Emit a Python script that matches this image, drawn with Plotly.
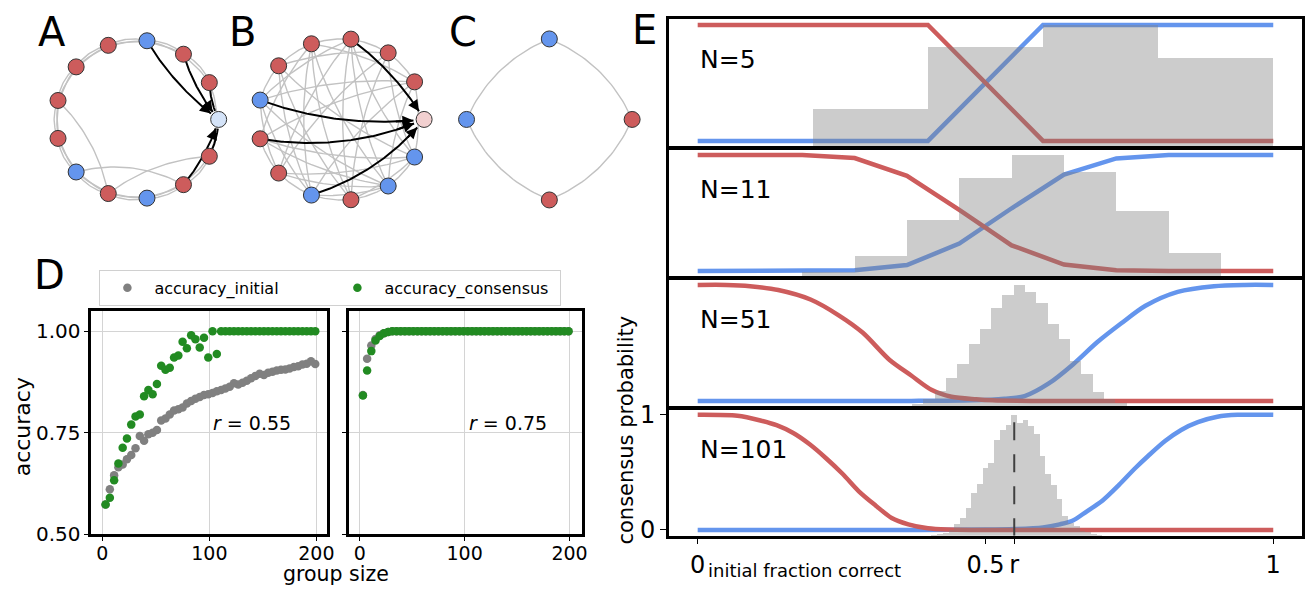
import numpy as np
import plotly.graph_objects as go

W, H = 1315, 597
FONT = "DejaVu Sans"
RED = "#cd5c5c"
BLUE = "#6495ed"
GREEN = "#228b22"
GRAY = "#808080"
EDGE = "#c2c2c2"

# ---------------- Panel A / B / C : networks ----------------
A_opinion = ["focal", "red", "red", "blue", "red", "red", "red", "red", "blue", "red", "blue", "red", "red"]
A_edges = [(1, 2), (2, 3), (3, 4), (4, 5), (5, 6), (6, 7), (7, 8), (8, 9), (9, 10), (10, 11), (11, 12),
           (1, 3), (2, 4), (3, 5), (4, 6), (5, 7), (6, 8), (7, 9), (8, 10), (9, 11), (10, 12), (12, 1)]
A_long_edges = [(6, 9), (8, 11), (9, 12)]
A_sources = [1, 2, 3, 11, 12]

B_opinion = ["focal", "red", "red", "red", "red", "red", "blue", "red", "red", "blue", "red", "blue", "blue"]
B_edges = [(1, 2), (2, 3), (3, 4), (4, 5), (5, 6), (7, 8), (8, 9), (9, 10), (10, 11), (11, 12), (12, 1),
           (1, 4), (1, 6), (1, 7), (1, 9), (2, 5), (2, 8), (2, 10), (2, 12), (3, 8), (3, 10), (3, 11),
           (3, 12), (4, 9), (4, 11), (4, 7), (5, 9), (5, 10), (5, 12), (6, 9), (6, 11), (7, 11), (7, 12),
           (8, 11), (8, 12), (9, 11), (10, 12), (3, 6), (4, 10), (6, 8), (1, 11)]
B_sources = [3, 6, 7, 9]

C_opinion = ["red", "blue", "blue", "red"]
C_edges = [(0, 1), (1, 2), (2, 3), (3, 0)]

# ---------------- Panel D : accuracy vs group size ----------------
group_size = list(range(3, 200, 4))
acc_initial_r055 = [0.573, 0.611, 0.645, 0.665, 0.672, 0.685, 0.695, 0.712, 0.742, 0.730,
                    0.746, 0.750, 0.757, 0.780, 0.785, 0.795, 0.805, 0.808, 0.812, 0.822,
                    0.828, 0.834, 0.838, 0.843, 0.845, 0.848, 0.852, 0.855, 0.859, 0.863,
                    0.872, 0.869, 0.873, 0.878, 0.884, 0.890, 0.895, 0.892, 0.898, 0.900,
                    0.903, 0.905, 0.906, 0.908, 0.912, 0.914, 0.918, 0.920, 0.926, 0.919]
acc_consensus_r055 = [0.573, 0.590, 0.633, 0.674, 0.713, 0.736, 0.770, 0.790, 0.795, 0.840,
                      0.855, 0.845, 0.870, 0.915, 0.905, 0.910, 0.935, 0.940, 0.974, 0.958,
                      0.990, 0.980, 0.960, 0.984, 0.935, 1.0, 0.944, 1.0, 1.0, 1.0,
                      1.0, 1.0, 1.0, 1.0, 1.0, 1.0, 1.0, 1.0, 1.0, 1.0,
                      1.0, 1.0, 1.0, 1.0, 1.0, 1.0, 1.0, 1.0, 1.0, 1.0]
acc_initial_r075 = [0.843, 0.932, 0.965, 0.981, 0.990, 0.995, 0.998, 1.0, 1.0, 1.0,
                    1.0, 1.0, 1.0, 1.0, 1.0, 1.0, 1.0, 1.0, 1.0, 1.0,
                    1.0, 1.0, 1.0, 1.0, 1.0, 1.0, 1.0, 1.0, 1.0, 1.0,
                    1.0, 1.0, 1.0, 1.0, 1.0, 1.0, 1.0, 1.0, 1.0, 1.0,
                    1.0, 1.0, 1.0, 1.0, 1.0, 1.0, 1.0, 1.0, 1.0, 1.0]
acc_consensus_r075 = [0.842, 0.903, 0.951, 0.977, 0.988, 0.995, 0.998, 1.0, 1.0, 1.0,
                      1.0, 1.0, 1.0, 1.0, 1.0, 1.0, 1.0, 1.0, 1.0, 1.0,
                      1.0, 1.0, 1.0, 1.0, 1.0, 1.0, 1.0, 1.0, 1.0, 1.0,
                      1.0, 1.0, 1.0, 1.0, 1.0, 1.0, 1.0, 1.0, 1.0, 1.0,
                      1.0, 1.0, 1.0, 1.0, 1.0, 1.0, 1.0, 1.0, 1.0, 1.0]
r_values = ["0.55", "0.75"]

# ---------------- Panel E : consensus probability ----------------
R_TRUE = 0.55
N_labels = ["N=5", "N=11", "N=51", "N=101"]

n5_x = [0.0, 0.2, 0.4, 0.6, 0.8, 1.0]
n5_correct = [0, 0, 0, 1, 1, 1]
n5_wrong = [1, 1, 1, 0, 0, 0]
n5_hist_start, n5_bins = 1, 5
n5_hist = [0.31, 0.818, 1.0, 0.727]

n11_x = [0.0, 0.0909, 0.1818, 0.2727, 0.3636, 0.4545, 0.5455, 0.6364, 0.7273, 0.8182, 0.9091, 1.0]
n11_correct = [0, 0, 0, 0.005, 0.05, 0.235, 0.54, 0.83, 0.97, 1, 1, 1]
n11_wrong = [1, 1, 1, 0.973, 0.82, 0.527, 0.22, 0.055, 0.005, 0, 0, 0]
n11_hist_start, n11_bins = 2, 11
n11_hist = [0.036, 0.171, 0.467, 0.81, 1.0, 0.863, 0.538, 0.195]

n51_correct_x = [0.0, 0.2, 0.371, 0.477, 0.533, 0.568, 0.61, 0.652, 0.694, 0.736, 0.778, 0.834, 0.897, 0.95, 1.0]
n51_correct = [0.0, 0.0, 0.0, 0.005, 0.019, 0.041, 0.15, 0.314, 0.505, 0.669, 0.82, 0.94, 0.989, 1.0, 1.0]
n51_wrong_x = [0.0, 0.05, 0.091, 0.14, 0.196, 0.245, 0.287, 0.333, 0.371, 0.406, 0.441, 0.484, 0.512, 0.58, 0.8, 1.0]
n51_wrong = [1.0, 1.0, 0.989, 0.956, 0.874, 0.738, 0.587, 0.355, 0.219, 0.096, 0.036, 0.014, 0.005, 0.0, 0.0, 0.0]
n51_hist_start, n51_bins = 19, 51
n51_hist = [0.019, 0.059, 0.125, 0.237, 0.352, 0.512, 0.637, 0.811, 0.917, 1.0,
            0.947, 0.851, 0.68, 0.557, 0.379, 0.267, 0.117, 0.059, 0.027]

n101_correct_x = [0.0, 0.3, 0.5, 0.551, 0.6, 0.629, 0.652, 0.675, 0.703, 0.732, 0.76, 0.783, 0.812,
                  0.84, 0.869, 0.903, 0.938, 1.0]
n101_correct = [0.0, 0.0, 0.003, 0.008, 0.022, 0.049, 0.082, 0.158, 0.254, 0.391, 0.536, 0.645, 0.773,
                0.869, 0.937, 0.984, 1.0, 1.0]
n101_wrong_x = [0.0, 0.069, 0.109, 0.137, 0.166, 0.194, 0.223, 0.252, 0.28, 0.309, 0.337, 0.366, 0.4,
                0.434, 0.48, 0.7, 1.0]
n101_wrong = [1.0, 0.992, 0.951, 0.91, 0.842, 0.746, 0.623, 0.486, 0.336, 0.213, 0.104, 0.049, 0.014,
              0.003, 0.0, 0.0, 0.0]
n101_hist_start, n101_bins = 41, 101
n101_hist = [0.005, 0.01, 0.02, 0.045, 0.097, 0.145, 0.23, 0.355, 0.43, 0.56, 0.605, 0.79, 0.876, 0.92,
             1.0, 0.93, 0.96, 0.91, 0.84, 0.66, 0.51, 0.42, 0.30, 0.16, 0.105, 0.08, 0.04, 0.026,
             0.013, 0.008]


# ---------------- helpers ----------------
def px_x(a, b):
    return [a / W, b / W]


def px_y(top, bottom):
    return [1 - bottom / H, 1 - top / H]


def bezier(p0, p1, rad, n=30):
    x1, y1 = p0
    x2, y2 = p1
    cx = (x1 + x2) / 2 + rad * (y2 - y1)
    cy = (y1 + y2) / 2 - rad * (x2 - x1)
    t = np.linspace(0, 1, n)
    bx = (1 - t) ** 2 * x1 + 2 * (1 - t) * t * cx + t ** 2 * x2
    by = (1 - t) ** 2 * y1 + 2 * (1 - t) * t * cy + t ** 2 * y2
    return bx, by


def paper_text(text, x_px, y_px, size, angle=0, xanchor="center"):
    return dict(x=x_px / W, y=1 - y_px / H, xref="paper", yref="paper", showarrow=False,
                text=text, textangle=angle, xanchor=xanchor, yanchor="middle",
                font=dict(size=size, family=FONT, color="black"))


fig = go.Figure()
annotations = []
layout = dict(width=W, height=H, margin=dict(l=0, r=0, t=0, b=0),
              paper_bgcolor="white", plot_bgcolor="rgba(0,0,0,0)",
              font=dict(family=FONT, color="black"), showlegend=True)

NODE_R = 0.115


def draw_network(idx, opinion, edges, rad, extra_edges, extra_rad, sources, src_rad, focal_color,
                 cx, cy, rpx):
    xa, ya = ("x", "y") if idx == 1 else (f"x{idx}", f"y{idx}")
    n = len(opinion)
    pos = [(np.cos(2 * np.pi * i / n), np.sin(2 * np.pi * i / n)) for i in range(n)]
    ex, ey = [], []
    for (i, j) in edges:
        bx, by = bezier(pos[i], pos[j], rad)
        ex += list(bx) + [None]
        ey += list(by) + [None]
    for (i, j), rr in zip(extra_edges, extra_rad):
        bx, by = bezier(pos[i], pos[j], rr)
        ex += list(bx) + [None]
        ey += list(by) + [None]
    fig.add_trace(go.Scatter(x=ex, y=ey, mode="lines", line=dict(color=EDGE, width=1.4),
                             xaxis=xa, yaxis=ya, hoverinfo="skip", showlegend=False))
    for s, rr in zip(sources, src_rad):
        bx, by = bezier(pos[s], pos[0], rr, n=80)
        d = np.hypot(bx - pos[0][0], by - pos[0][1])
        keep = d >= NODE_R
        bx, by = bx[keep], by[keep]
        fig.add_trace(go.Scatter(x=bx, y=by, mode="lines", line=dict(color="black", width=2),
                                 xaxis=xa, yaxis=ya, hoverinfo="skip", showlegend=False))
        annotations.append(dict(x=bx[-1], y=by[-1], ax=bx[-10], ay=by[-10], xref=xa, yref=ya,
                                axref=xa, ayref=ya, showarrow=True, text="", arrowhead=2,
                                arrowsize=1.1, arrowwidth=2, arrowcolor="black"))
    cmap = {"red": RED, "blue": BLUE, "focal": focal_color}
    fig.add_trace(go.Scatter(x=[p[0] for p in pos], y=[p[1] for p in pos], mode="markers",
                             marker=dict(size=16, color=[cmap[o] for o in opinion],
                                         line=dict(color="#333333", width=1)),
                             xaxis=xa, yaxis=ya, hoverinfo="skip", showlegend=False))
    RR = 1.25
    key = "" if idx == 1 else str(idx)
    layout["xaxis" + key] = dict(domain=px_x(cx - RR * rpx, cx + RR * rpx), range=[-RR, RR],
                                 visible=False, anchor=ya, fixedrange=True)
    layout["yaxis" + key] = dict(domain=px_y(cy - RR * rpx, cy + RR * rpx), range=[-RR, RR],
                                 visible=False, anchor=xa, fixedrange=True)


draw_network(1, A_opinion, A_edges, 0.2, A_long_edges, [-0.15, -0.2, -0.15],
             A_sources, [0.1, 0.1, 0.1, 0.1, 0.1], "#d4e3f8", 138, 115.3, 82)
draw_network(2, B_opinion, B_edges, 0.1, [], [], B_sources, [-0.1, 0.12, 0.15, 0.15],
             "#f2d0d0", 343, 115.3, 83.7)
draw_network(3, C_opinion, C_edges, 0.2, [], [], [], [], "#ffffff", 552.7, 115.3, 83.3)

# ---------------- Panel D ----------------
D_sets = [(acc_initial_r055, acc_consensus_r055, 4, (92, 328.5), [-10.2, 209.5], (140, 0.773)),
          (acc_initial_r075, acc_consensus_r075, 5, (351, 586), [-10.4, 212.3], (141.8, 0.773))]
for k, (ini, con, ai, xdom, xr, rpos) in enumerate(D_sets):
    xa, ya = f"x{ai}", f"y{ai}"
    fig.add_trace(go.Scatter(x=group_size, y=ini, mode="markers", name="accuracy_initial",
                             marker=dict(color=GRAY, size=8.5), xaxis=xa, yaxis=ya,
                             showlegend=(k == 0), legendrank=1))
    fig.add_trace(go.Scatter(x=group_size, y=con, mode="markers", name="accuracy_consensus",
                             marker=dict(color=GREEN, size=8.5), xaxis=xa, yaxis=ya,
                             showlegend=(k == 0), legendrank=2))
    common = dict(showline=True, mirror=True, linecolor="black", linewidth=3, ticks="outside",
                  ticklen=4, tickwidth=1.2, tickcolor="black", showgrid=True, gridcolor="#d4d4d4",
                  gridwidth=1, zeroline=False, fixedrange=True)
    layout[f"xaxis{ai}"] = dict(domain=px_x(*xdom), range=xr, anchor=ya, tickvals=[0, 100, 200],
                                ticklabelstandoff=-4, tickfont=dict(size=19, family=FONT), **common)
    layout[f"yaxis{ai}"] = dict(domain=px_y(313, 544.5), range=[0.5, 1.051], anchor=xa,
                                tickvals=[0.5, 0.75, 1.0], ticktext=["0.50", "0.75", "1.00"],
                                tickfont=dict(size=20, family=FONT),
                                showticklabels=(k == 0), **common)
    annotations.append(dict(x=rpos[0], y=rpos[1], xref=xa, yref=ya, showarrow=False,
                            xanchor="center", yanchor="middle",
                            text=f"<i>r</i> = {r_values[k]}", font=dict(size=19, family=FONT)))

layout["legend"] = dict(orientation="h", x=100 / W, y=1 - 271 / H, xanchor="left", yanchor="top",
                        font=dict(size=16, family=FONT), bordercolor="#d0d0d0", borderwidth=1,
                        bgcolor="white", itemwidth=44, entrywidth=171, entrywidthmode="pixels")

annotations.append(paper_text("group size", 338, 586, 20.5))
annotations.append(paper_text("accuracy", 23, 433, 22, angle=-90))

# ---------------- Panel E ----------------
E_panels = [
    (n5_x, n5_correct, n5_x, n5_wrong, n5_hist_start, n5_bins, n5_hist, "linear"),
    (n11_x, n11_correct, n11_x, n11_wrong, n11_hist_start, n11_bins, n11_hist, "linear"),
    (n51_correct_x, n51_correct, n51_wrong_x, n51_wrong, n51_hist_start, n51_bins, n51_hist, "spline"),
    (n101_correct_x, n101_correct, n101_wrong_x, n101_wrong, n101_hist_start, n101_bins, n101_hist,
     "spline"),
]
LW_E = 2.5
E_box = [(11.5, 143.5), (146, 278), (280.5, 412.5), (415, 546)]
for k, (cx_, cy_, wx_, wy_, hs, nb, hv, shape) in enumerate(E_panels):
    ai, hi = 6 + k, 10 + k
    xa, ya, yh = f"x{ai}", f"y{ai}", f"y{hi}"
    fig.add_trace(go.Scatter(x=cx_, y=cy_, mode="lines", line=dict(color=BLUE, width=4.5, shape=shape,
                                                                  smoothing=0.8),
                             xaxis=xa, yaxis=ya, showlegend=False, hoverinfo="skip"))
    fig.add_trace(go.Scatter(x=wx_, y=wy_, mode="lines", line=dict(color=RED, width=4.5, shape=shape,
                                                                  smoothing=0.8),
                             xaxis=xa, yaxis=ya, showlegend=False, hoverinfo="skip"))
    centers = (np.arange(hs, hs + len(hv)) + 0.5) / nb
    fig.add_trace(go.Bar(x=centers, y=hv, width=1.0 / nb, marker=dict(color="rgba(128,128,128,0.4)",
                                                                       line=dict(width=0)),
                         xaxis=xa, yaxis=yh, showlegend=False, hoverinfo="skip"))
    last = (k == 3)
    top, bot = E_box[k]
    layout[f"xaxis{ai}"] = dict(domain=px_x(673, 1310), range=[-0.05, 1.05], anchor=ya,
                                showline=True, mirror=True, linecolor="black", linewidth=LW_E,
                                showgrid=False, zeroline=False, fixedrange=True,
                                ticks="outside" if last else "", ticklen=6, tickwidth=1.2,
                                tickcolor="black", showticklabels=last,
                                tickvals=[0, 0.5, R_TRUE, 1], ticktext=["0", "0.5", "r", "1"],
                                tickfont=dict(size=24, family=FONT))
    layout[f"yaxis{ai}"] = dict(domain=px_y(top, bot), range=[-0.05, 1.05], anchor=xa,
                                showline=True, mirror=True, linecolor="black", linewidth=LW_E,
                                showgrid=False, zeroline=False, fixedrange=True,
                                ticks="outside" if last else "", ticklen=6, tickwidth=1.2,
                                tickcolor="black", showticklabels=last,
                                tickvals=[0, 1], ticktext=["0", "1"],
                                tickfont=dict(size=24, family=FONT))
    layout[f"yaxis{hi}"] = dict(overlaying=ya, anchor=xa, range=[0, 1.05], visible=False,
                                fixedrange=True)
    annotations.append(dict(x=0, y=0.7, xref=xa, yref=ya, xanchor="left", yanchor="middle",
                            showarrow=False, text=N_labels[k], font=dict(size=25, family=FONT)))
    if last:
        fig.add_trace(go.Scatter(x=[R_TRUE, R_TRUE], y=[0.94, 0], mode="lines",
                                 line=dict(color="#404040", width=2, dash="18px,14px"),
                                 xaxis=xa, yaxis=yh, showlegend=False, hoverinfo="skip"))

annotations.append(paper_text("initial fraction correct", 710, 582, 18, xanchor="left"))
annotations.append(paper_text("consensus probability", 630, 437, 21, angle=-90))

# panel letters
for letter, lx, ly in [("A", 52, 25), ("B", 244, 25), ("C", 466, 25), ("D", 50, 276), ("E", 648, 23)]:
    annotations.append(paper_text(letter, lx, ly, 40))

layout["annotations"] = annotations
layout["bargap"] = 0
fig.update_layout(**layout)
fig.write_html("out.html")
